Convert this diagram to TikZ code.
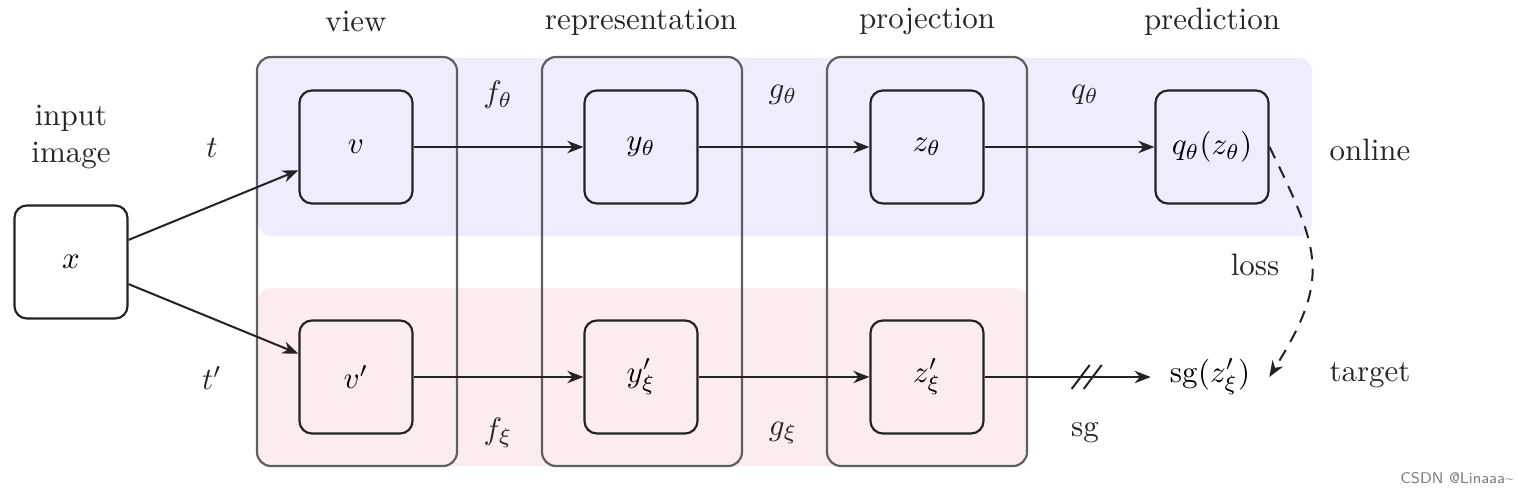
\documentclass[tikz,border=0pt]{standalone}
\usetikzlibrary{arrows.meta,calc}
\definecolor{onlinebg}{RGB}{238,236,253}
\definecolor{targetbg}{RGB}{253,236,238}
\definecolor{colgray}{RGB}{95,95,95}
\definecolor{boxline}{RGB}{35,35,35}
\definecolor{wmgray}{RGB}{125,125,125}
\begin{document}
\begin{tikzpicture}[x=0.323pt,y=-0.323pt,
  box/.style={draw=boxline, line width=0.7pt, rounded corners=4pt, minimum width=36.5pt, minimum height=36.5pt, inner sep=0pt},
  col/.style={draw=colgray, line width=0.7pt, rounded corners=4.5pt},
  arr/.style={-{Stealth[length=5.2pt,width=4pt]}, line width=0.65pt, draw=boxline},
  slash/.style={line width=0.65pt, draw=boxline},
  lbl/.style={inner sep=0pt, anchor=center, text=black!85}]
\path[use as bounding box] (0,0) rectangle (1518,492);
% bands
\fill[onlinebg, rounded corners=4pt] (258,58) rectangle (1312,236);
\fill[targetbg, rounded corners=4pt] (258,288) rectangle (1028,466);
% columns
\draw[col] (257,57) rectangle (457,466);
\draw[col] (542,57) rectangle (742,466);
\draw[col] (827,57) rectangle (1027,466);
% titles
\node[lbl] (tview) at (356,22) {view};
\node[lbl] (trep) at (641,22) {representation};
\node[lbl] (tproj) at (927,22) {projection};
\node[lbl] (tpred) at (1212,22) {prediction};
\node[lbl, align=center] (tin) at (71,137) {input\\image};
% nodes
\node[box] (x) at (71,262) {$x$};
\node[box] (v) at (356,147) {$v$};
\node[box] (y) at (641,147) {$y_\theta$};
\node[box] (z) at (927,147) {$z_\theta$};
\node[box] (q) at (1212,147) {$q_\theta(z_\theta)$};
\node[box] (vp) at (356,377) {$v'$};
\node[box] (yp) at (641,377) {$y'_\xi$};
\node[box] (zp) at (927,377) {$z'_\xi$};
\node[inner xsep=6pt, inner ysep=3pt] (sg) at (1210,377) {$\mathrm{sg}(z'_\xi)$};
% labels
\node[lbl] (lt) at (212,148) {$t$};
\node[lbl] (ltp) at (212,378) {$t'$};
\node[lbl] (lf) at (498,95) {$f_\theta$};
\node[lbl] (lg) at (783,95) {$g_\theta$};
\node[lbl] (lq) at (1085,95) {$q_\theta$};
\node[lbl] (lfx) at (498,433) {$f_\xi$};
\node[lbl] (lgx) at (783,433) {$g_\xi$};
\node[lbl] (lsg) at (1085,433) {sg};
\node[lbl] (lon) at (1370,150) {online};
\node[lbl] (ltg) at (1370,375) {target};
\node[lbl] (lloss) at (1255,265) {loss};
% connectors
\draw[arr] (x.21) -- (v.202);
\draw[arr] (x.-21) -- (vp.158);
\draw[arr] (v) -- (y);
\draw[arr] (y) -- (z);
\draw[arr] (z) -- (q);
\draw[arr] (vp) -- (yp);
\draw[arr] (yp) -- (zp);
\draw[arr] (zp) -- (sg);
\coordinate (mk) at ($(zp.east)!0.5!(sg.west)$);
\draw[slash] ($(mk)+(4,12)$) -- ++(18,-24);
\draw[slash] ($(mk)+(16,12)$) -- ++(18,-24);
\draw[arr, dashed, dash pattern=on 4pt off 3pt] (q.east) to[out=-64, in=58, looseness=1.3] (sg.east);
% watermark
\node[lbl, text=wmgray, font=\sffamily\fontsize{5}{6}\selectfont] (wm) at (1457,478) {CSDN @Linaaa\textasciitilde};
\end{tikzpicture}
\end{document}
